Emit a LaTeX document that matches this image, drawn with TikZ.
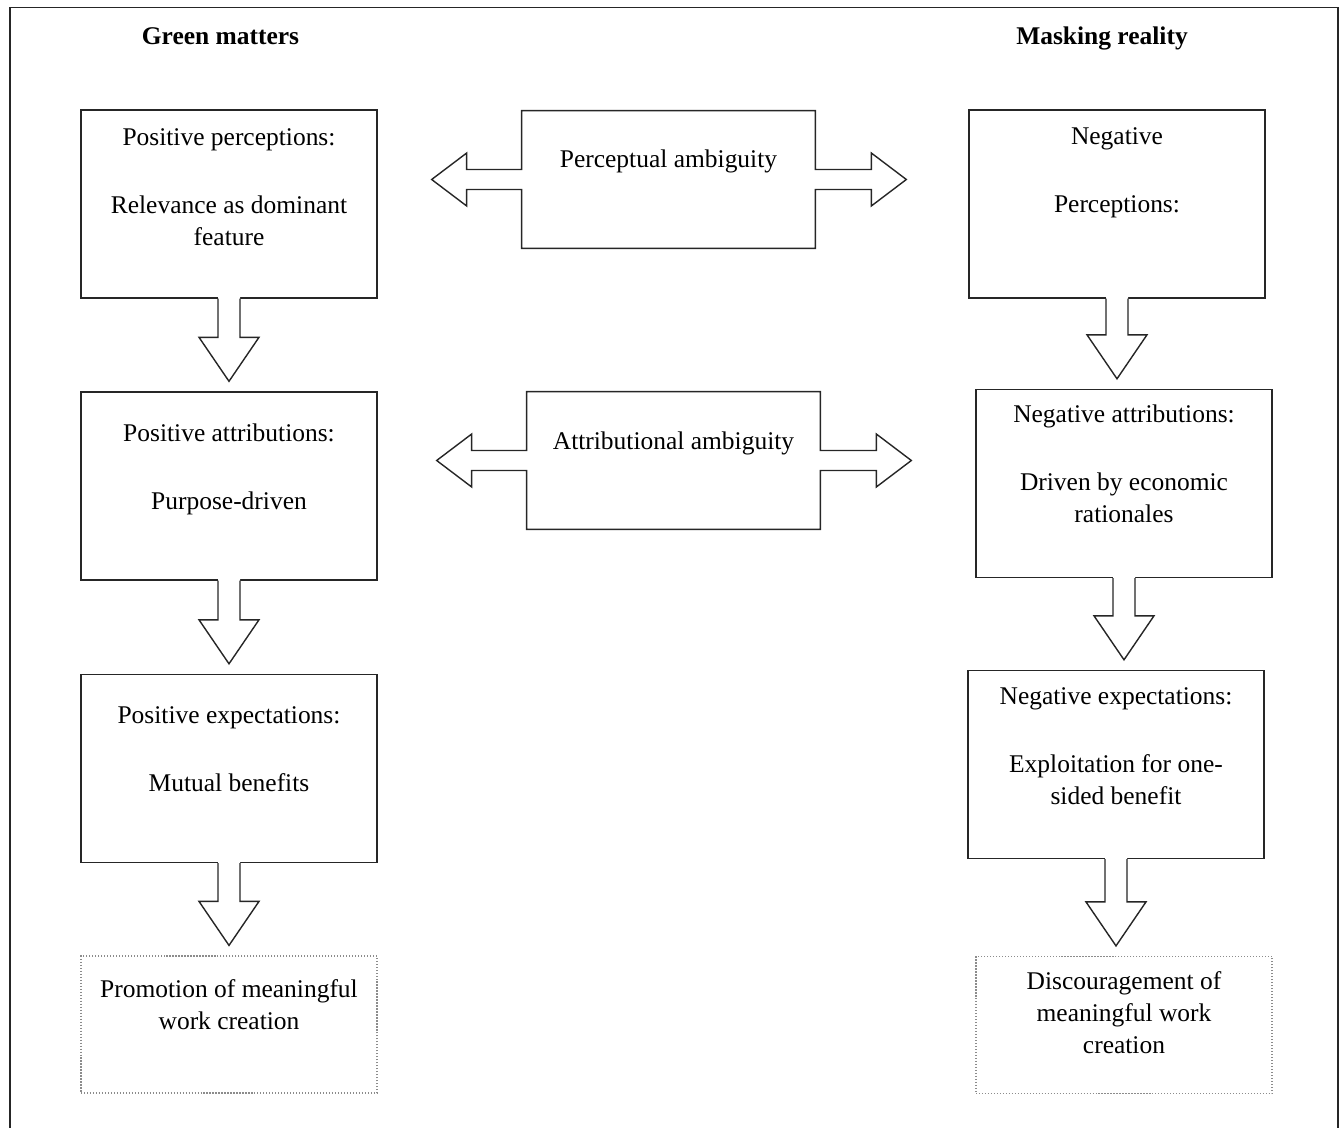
\documentclass[tikz,border=0pt]{standalone}
\usepackage{fontspec}
\setmainfont{Liberation Serif}
\usepackage{tikz}
\usetikzlibrary{calc,positioning}
\definecolor{ink}{HTML}{262626}
\definecolor{dotline}{HTML}{8C8C8C}

\newcommand{\blockdown}[2]{%
  \coordinate (tip) at (#1.south |- #2.north);
  \fill[white] ($(#1.south)+(-11,-2)$) -- ($(tip)+(-11,-54)$) -- ($(tip)+(-30,-54)$) -- ($(tip)+(0,-10)$)
    -- ($(tip)+(30,-54)$) -- ($(tip)+(11,-54)$) -- ($(#1.south)+(11,-2)$) -- cycle;
  \draw[shaft] ($(#1.south)+(-11,0)$) -- ($(tip)+(-11,-54)$) -- ($(tip)+(-30,-54)$) -- ($(tip)+(0,-10)$)
    -- ($(tip)+(30,-54)$) -- ($(tip)+(11,-54)$) -- ($(#1.south)+(11,0)$);
}

\begin{document}
\begin{tikzpicture}[
    x=0.02cm, y=-0.02cm,
    box/.style={draw=ink, line width=0.8pt, minimum width=5.92cm, minimum height=3.76cm},
    endbox/.style={draw=dotline, densely dotted, line width=0.7pt, minimum width=5.92cm, minimum height=2.74cm},
    midbox/.style={minimum width=5.86cm, minimum height=2.74cm},
    txt/.style={font=\fontsize{14.5}{18.2}\selectfont, align=center, inner sep=0pt, anchor=base},
    ttl/.style={font=\fontsize{14.5}{18.2}\selectfont\bfseries, inner sep=0pt, anchor=base},
    outline/.style={draw=ink, line width=0.8pt, line join=miter},
    shaft/.style={draw=ink, line width=0.8pt, line join=miter},
    frame/.style={draw=black!85, line width=1.1pt}
]
\useasboundingbox (0,0) rectangle (1340,1128);
\draw[frame] (10,1128) -- (10,7.5) -- (1338,7.5) -- (1338,1128);

\node[ttl] (green) at (220.5,45) {Green matters};
\node[ttl] (mask) at (1102,45) {Masking reality};

\node[box] (pospc) at (229,204) {};
\node[box] (posat) at (229,486) {};
\node[box] (posex) at (229,768.5) {};
\node[endbox] (promo) at (229,1024.5) {};
\node[box] (negpc) at (1117,204) {};
\node[box] (negat) at (1124,483.5) {};
\node[box] (negex) at (1116,764.5) {};
\node[endbox] (disco) at (1124,1025) {};
\node[midbox] (percamb) at (668.5,179.5) {};
\node[midbox] (attramb) at (673.5,460.5) {};

\foreach \n in {percamb,attramb} {
  \draw[outline] (\n.north west) -- (\n.north east) -- ($(\n.east)+(0,-10)$) -- ++(56,0) -- ++(0,-16.5)
    -- ++(35,26.5) -- ++(-35,26.5) -- ++(0,-16.5) -- ++(-56,0) -- (\n.south east) -- (\n.south west)
    -- ($(\n.west)+(0,10)$) -- ++(-55,0) -- ++(0,16.5) -- ++(-35,-26.5) -- ++(35,-26.5) -- ++(0,16.5)
    -- ++(55,0) -- cycle;
}

\foreach \a/\b in {pospc/posat, posat/posex, posex/promo, negpc/negat, negat/negex, negex/disco} {
  \blockdown{\a}{\b}
}

% base of a multi-line node sits on its last line
\node[txt] (pospc-t) at ($(pospc.north)+(0,136)$) {Positive perceptions:\\[20.5pt]Relevance as dominant\\feature};
\node[txt] (posat-t) at ($(posat.north)+(0,118)$) {Positive attributions:\\[20.5pt]Purpose-driven};
\node[txt] (posex-t) at ($(posex.north)+(0,118)$) {Positive expectations:\\[20.5pt]Mutual benefits};
\node[txt] (promo-t) at ($(promo.north)+(0,74)$) {Promotion of meaningful\\work creation};
\node[txt] (negpc-t) at ($(negpc.north)+(0,103)$) {Negative\\[20.5pt]Perceptions:};
\node[txt] (negat-t) at ($(negat.north)+(0,134)$) {Negative attributions:\\[20.5pt]Driven by economic\\rationales};
\node[txt] (negex-t) at ($(negex.north)+(0,135)$) {Negative expectations:\\[20.5pt]Exploitation for one-\\sided benefit};
\node[txt] (disco-t) at ($(disco.north)+(0,98)$) {Discouragement of\\meaningful work\\creation};
\node[txt] (percamb-t) at ($(percamb.north)+(0,57)$) {Perceptual ambiguity};
\node[txt] (attramb-t) at ($(attramb.north)+(0,58)$) {Attributional ambiguity};
\end{tikzpicture}
\end{document}
